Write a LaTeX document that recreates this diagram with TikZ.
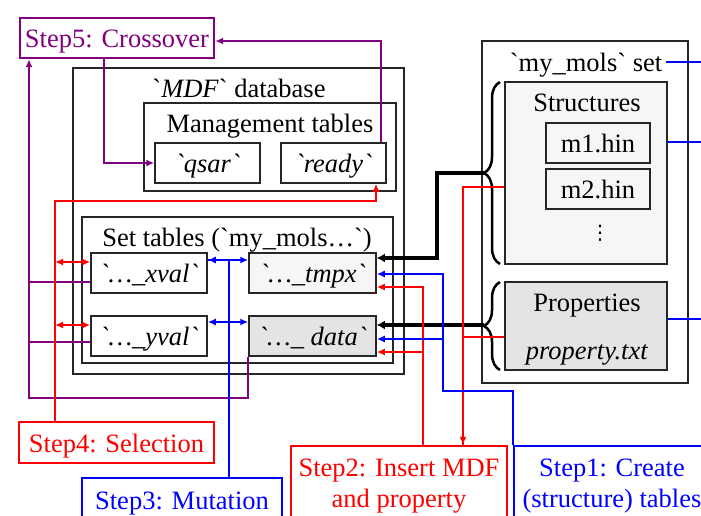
\documentclass[tikz,border=0pt]{standalone}
\usepackage{fontspec}
\setmainfont{Liberation Serif}
\newfontfamily\gqf{Liberation Serif}
\newfontfamily\dvs{DejaVu Sans}
\newcommand{\gq}{{\gqf\char"60\relax}}
\usetikzlibrary{arrows.meta,decorations.pathreplacing}
\definecolor{pur}{RGB}{128,0,128}
\definecolor{lgray}{RGB}{246,246,246}
\definecolor{dgray}{RGB}{228,228,228}
\begin{document}
\begin{tikzpicture}[x=1pt,y=-1pt,
  font=\fontsize{26.5}{31}\selectfont,
  txt/.style={text height=22pt, text depth=2.5pt},
  txttwo/.style={text height=53pt, text depth=2.5pt},
  box/.style={draw=black!85, line width=1.5pt, inner sep=0pt, align=center, txt},
  lbl/.style={inner sep=0pt, align=center, txt},
  stepbox/.style={line width=2.4pt, inner sep=0pt, align=center, fill=white, txt},
  tip/.style={-{Latex[length=8pt,width=7pt]}},
  pc/.style={draw=pur, line width=2pt},
  rc/.style={draw=red, line width=2pt},
  bc/.style={draw=blue, line width=2pt},
  thk/.style={draw=black, line width=3.5pt},
  brc/.style={draw=black, line width=2.5pt, decorate, decoration={brace, amplitude=16pt}}
]
\useasboundingbox (0,0) rectangle (701,516);
\clip (0,0) rectangle (701,516);

% ---- MDF database ----
\node[box, minimum width=331pt, minimum height=306pt] (mdf) at (238.5,221) {};
\node[lbl] (mdft) at (239,88) {\gq\textit{MDF}\gq{} database};
\node[box, minimum width=252pt, minimum height=88pt] (mgmt) at (270,147) {};
\node[lbl] (mgmtt) at (270,123) {Management tables};
\node[box, minimum width=105pt, minimum height=40pt] (qsar) at (207.5,163) {\textit{\gq{}qsar\gq}};
\node[box, minimum width=105pt, minimum height=40pt] (ready) at (333.5,163) {\textit{\gq{}ready\gq}};
\node[box, minimum width=311pt, minimum height=146pt] (set) at (237.5,290) {};
\node[lbl] (sett) at (237,237) {Set tables (\gq{}my\_mols…\gq)};
\node[box, minimum width=116pt, minimum height=40pt] (xval) at (149,273) {\textit{\gq{}…\_xval\gq}};
\node[box, minimum width=116pt, minimum height=40pt] (yval) at (149,336) {\textit{\gq{}…\_yval\gq}};
\node[box, fill=lgray, minimum width=127pt, minimum height=40pt] (tmpx) at (312.5,273) {\textit{\gq{}…\_tmpx\gq}};
\node[box, fill=dgray, minimum width=127pt, minimum height=40pt] (data) at (312.5,336) {\textit{\gq{}…\_ data\gq}};

% ---- my_mols set ----
\node[box, minimum width=206pt, minimum height=342pt] (mm) at (585,212) {};
\node[lbl] (mmt) at (586,62) {\gq{}my\_mols\gq{} set};
\node[box, fill=lgray, minimum width=162pt, minimum height=182pt] (struct) at (586,173) {};
\node[lbl] (structt) at (587,102) {Structures};
\node[box, minimum width=104pt, minimum height=40pt] (m1) at (598,143) {m1.hin};
\node[box, minimum width=104pt, minimum height=40pt] (m2) at (598,189) {m2.hin};
\node[inner sep=0pt, font=\dvs\fontsize{20}{24}\selectfont] (dots) at (600,233) {⋮};
\node[box, fill=dgray, minimum width=162pt, minimum height=88pt] (props) at (586,326) {};
\node[lbl] (propst) at (587,302) {Properties};
\node[lbl] (propf) at (587,350) {\textit{property.txt}};

% ---- steps ----
\node[stepbox, draw=pur, text=pur, minimum width=194pt, minimum height=40pt] (s5) at (117,38) {Step5: Crossover};
\node[stepbox, draw=red, text=red, minimum width=195pt, minimum height=41pt] (s4) at (116.5,442.5) {Step4: Selection};
\node[stepbox, draw=blue, text=blue, minimum width=200pt, minimum height=44pt] (s3) at (182,500) {Step3: Mutation};
\node[stepbox, txttwo, draw=red, text=red, minimum width=216pt, minimum height=73pt] (s2) at (399,482.5) {Step2: Insert MDF\\and property};
\node[stepbox, txttwo, draw=blue, text=blue, minimum width=196pt, minimum height=73pt] (s1) at (612,482.5) {Step1: Create\\(structure) tables};

% ---- braces ----
\draw[brc] (500,264) -- (500,82);
\draw[brc] (500,370) -- (500,282);
\coordinate (sb) at (484,173);
\coordinate (pb) at (484,325);
\coordinate (bk) at (437,173);
\draw[thk,-{Latex[length=8pt,width=9pt]}] (sb) -- (bk) |- ([yshift=15pt]tmpx.east);
\draw[thk,-{Latex[length=8pt,width=9pt]}] (pb) -- (pb -| data.east);

% ---- purple ----
\coordinate (pl) at (29,398);
\draw[pc,tip] ([xshift=-13pt]s5.south) |- (qsar.west);
\draw[pc,tip] ([xshift=47.5pt]ready.north) |- ([yshift=-3pt]s5.east);
\draw[pc,tip] (data.south west) |- (pl) -- (pl |- s5.south);
\draw[pc] ([yshift=-9pt]xval.west) coordinate (xv) -- (xv -| pl);
\draw[pc] ([yshift=-6pt]yval.west) coordinate (yv) -- (yv -| pl);

% ---- red ----
\coordinate (rcn) at (376,201);
\coordinate (rl) at (55,0);
\draw[rc,tip] ([xshift=-61.5pt]s4.north) |- (rcn) -- ([xshift=42.5pt]ready.south);
\draw[rc,{Latex[length=8pt,width=7pt]}-{Latex[length=8pt,width=7pt]}] ([yshift=11pt]xval.west) coordinate (xr) -- (xr -| rl);
\draw[rc,{Latex[length=8pt,width=7pt]}-{Latex[length=8pt,width=7pt]}] ([yshift=11pt]yval.west) coordinate (yr) -- (yr -| rl);
\draw[rc,tip] ([xshift=24pt]s2.north) |- ([yshift=-14pt]tmpx.east);
\draw[rc,tip] ([xshift=24pt]s2.north) |- ([yshift=-16pt]data.east);
\draw[rc,tip] ([yshift=-14pt]struct.west) -| ([xshift=64pt]s2.north);
\draw[rc] ([yshift=-11pt]props.west) -| ([xshift=64pt]s2.north);

% ---- blue ----
\coordinate (b1) at (443,391);
\coordinate (offr) at (720,0);
\draw[bc,{Latex[length=8pt,width=7pt]}-{Latex[length=8pt,width=7pt]}] ([yshift=13pt]xval.east) -- ([yshift=13pt]tmpx.west);
\draw[bc,{Latex[length=8pt,width=7pt]}-{Latex[length=8pt,width=7pt]}] ([yshift=14pt]yval.east) -- ([yshift=14pt]data.west);
\draw[bc] ([xshift=47pt]s3.north) |- ([yshift=13pt]xval.east);
\draw[bc,tip] (s1.north west) |- (b1) |- ([yshift=-1pt]tmpx.east);
\draw[bc,tip] (b1) |- ([yshift=-3pt]data.east);
\draw[bc] ([xshift=4pt]mmt.east) -- (mmt.east -| offr);
\draw[bc] ([yshift=31pt]struct.east) coordinate (se) -- (se -| offr);
\draw[bc] ([yshift=7pt]props.east) coordinate (pe) -- (pe -| offr);
\end{tikzpicture}
\end{document}
